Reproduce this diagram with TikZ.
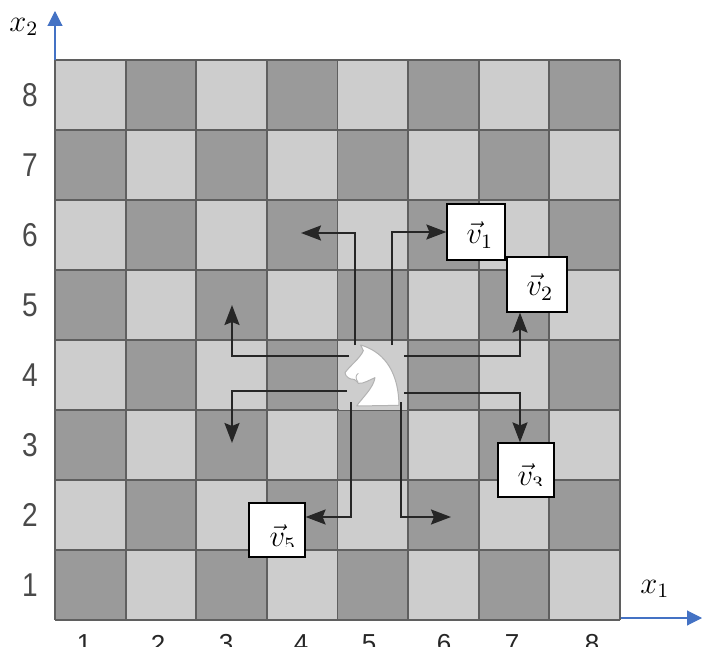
\documentclass[tikz,border=0pt]{standalone}
\usepackage{fontspec}
\setmainfont{Liberation Sans}
\usetikzlibrary{arrows.meta}
\definecolor{lightsq}{HTML}{CDCDCD}
\definecolor{darksq}{HTML}{9A9A9A}
\definecolor{gridline}{HTML}{5F5F5F}
\definecolor{axisblue}{HTML}{4472C4}
\definecolor{digit}{HTML}{4A4A4A}
\newcommand{\biglabel}[1]{\scalebox{2.55}{$#1$}}
\tikzset{
  gridrule/.style={draw=gridline,line width=1.8pt},
  axisline/.style={draw=axisblue,line width=1.1pt,-{Triangle[length=15pt,width=15pt]}},
  movearrow/.style={draw=black!85,line width=2pt,-{Stealth[length=20pt,width=15pt,inset=3pt]}},
  vecbox/.style={draw=black,fill=white,line width=1.2pt,minimum width=#1,inner sep=0pt},
  rankdigit/.style={text=digit,font=\fontsize{33}{36}\selectfont\addfontfeature{FakeStretch=0.85},inner sep=0pt},
  filedigit/.style={text=black!85,font=\fontsize{26}{30}\selectfont,inner sep=0pt},
  mathlabel/.style={font=\fontsize{12}{14}\selectfont,inner sep=0pt},
}
\begin{document}
\begin{tikzpicture}[x=1pt,y=-1pt]
\useasboundingbox (0,0) rectangle (702,647);
\clip (0,0) rectangle (702,647);
% squares
\foreach \c in {0,...,7}{\foreach \r in {0,...,7}{
  \pgfmathtruncatemacro{\parity}{mod(\c+\r,2)}
  \ifnum\parity=0 \def\sq{lightsq}\else\def\sq{darksq}\fi
  \fill[\sq] ({55+70.6*\c},{60+70*\r}) rectangle ++(70.6,70);
}}
\foreach \c in {0,...,8}{\draw[gridrule] ({55+70.6*\c},60) -- ({55+70.6*\c},620);}
\foreach \r in {0,...,8}{\draw[gridrule] (55,{60+70*\r}) -- (620,{60+70*\r});}
% rank and file digits
\foreach \n [count=\i from 0] in {8,7,6,5,4,3,2,1}{
  \node[rankdigit] (rank\n) at (30,{95+70*\i}) {\n};
}
\foreach \n/\px in {1/84,2/158,3/226,4/301,5/369,6/444,7/512,8/592}{
  \node[filedigit] (file\n) at (\px,644) {\n};
}
% axes
\coordinate (origintop) at (55,60);
\coordinate (x2tip) at (55,11);
\coordinate (originright) at (621,618);
\coordinate (x1tip) at (702,618);
\draw[axisline] (origintop) -- (x2tip);
\draw[axisline] (originright) -- (x1tip);
\node[mathlabel] (x2label) at (24,27) {\biglabel{x_2}};
\node[mathlabel] (x1label) at (655,589) {\biglabel{x_1}};
% knight
\begin{scope}[shift={(330,330)},x=0.3333pt,y=-0.3333pt]
\fill[lightsq] (28,35) rectangle (232,240);
\draw[fill=white,draw=black!30,line width=1pt,line join=round]
  (92,45) .. controls (150,62) and (205,110) .. (207,226)
  -- (80,228) .. controls (95,205) and (130,175) .. (135,143)
  .. controls (118,150) and (100,162) .. (85,160)
  .. controls (80,156) and (80,150) .. (72,148)
  .. controls (62,150) and (45,140) .. (45,128)
  .. controls (62,105) and (90,85) .. (100,62) -- cycle;
\draw[black!30,line width=0.8pt] (85,130) .. controls (76,136) and (76,146) .. (84,156);
\end{scope}
\node[inner sep=0pt,minimum width=70pt,minimum height=70pt] (knight) at (373,376) {};
% boxes
\node[vecbox=58pt,minimum height=56pt] (v1) at (476,232) {};
\node[vecbox=60pt,minimum height=55pt] (v2) at (537,284.5) {};
\node[vecbox=56pt,minimum height=54pt] (v3) at (526,470) {};
\node[vecbox=56pt,minimum height=54pt] (v5) at (277,530) {};
\node[mathlabel] at (480,235) {\biglabel{\vec{v}_1}};
\node[mathlabel] at (540,287) {\biglabel{\vec{v}_2}};
\begin{scope}
\clip (500,445) rectangle (552,485);
\node[mathlabel] at (531,477) {\biglabel{\vec{v}_3}};
\end{scope}
\begin{scope}
\clip (251,505) rectangle (303,546);
\node[mathlabel] at (283,538) {\biglabel{\vec{v}_5}};
\end{scope}
% free arrow ends
\coordinate (nwtip) at (301,233);
\coordinate (wuptip) at (232,305);
\coordinate (wdowntip) at (232,443);
\coordinate (setip) at (451,517);
% connectors
\draw[movearrow] ([shift={(-18,-31)}]knight.center) |- (nwtip);
\draw[movearrow] ([shift={(19,-31)}]knight.center) |- (v1.west);
\draw[movearrow] ([shift={(31,-20)}]knight.center) -| ([xshift=-17pt]v2.south);
\draw[movearrow] ([shift={(-24,-20)}]knight.center) -| (wuptip);
\draw[movearrow] ([shift={(-26,15)}]knight.center) -| (wdowntip);
\draw[movearrow] ([shift={(31,17)}]knight.center) -| ([xshift=-6pt]v3.north);
\draw[movearrow] ([shift={(-22,26)}]knight.center) |- ([yshift=13pt]v5.east);
\draw[movearrow] ([shift={(28,26)}]knight.center) |- (setip);
\end{tikzpicture}
\end{document}
